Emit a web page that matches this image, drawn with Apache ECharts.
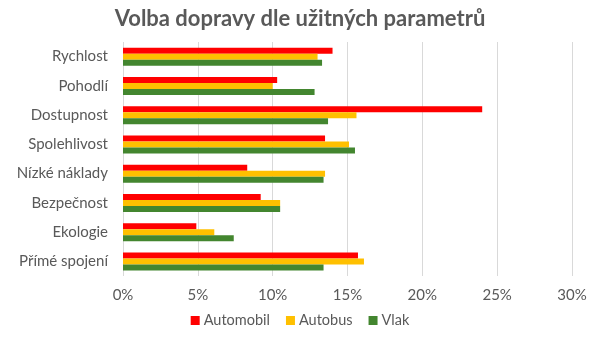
<!DOCTYPE html>
<html><head><meta charset="utf-8">
<script src="https://cdn.jsdelivr.net/npm/echarts@6/dist/echarts.min.js"></script>
<style>html,body{margin:0;padding:0;background:#fff}#c{width:600px;height:337px}</style>
</head><body><div id="c"></div>
<script>
const categories = ["Rychlost","Pohodlí","Dostupnost","Spolehlivost","Nízké náklady","Bezpečnost","Ekologie","Přímé spojení"];
const automobil = [14.0,10.3,24.0,13.5,8.3,9.2,4.9,15.7];
const autobus   = [13.0,10.0,15.6,15.1,13.5,10.5,6.1,16.1];
const vlak      = [13.3,12.8,13.7,15.5,13.4,10.5,7.4,13.4];
const seriesNames = ["Automobil","Autobus","Vlak"];
const colors = ["#ff0000","#ffc000","#43862f"];
const font = "Lato";
const chart = echarts.init(document.getElementById('c'));
chart.setOption({
  animation:false,
  title:{text:"Volba dopravy dle užitných parametrů",left:'center',top:3,
    textStyle:{fontFamily:font,fontSize:22,fontWeight:'bold',color:'#595959'}},
  legend:{bottom:4,left:'center',itemWidth:9,itemHeight:9,itemGap:16,icon:'rect',
    textStyle:{fontFamily:font,fontSize:14.5,color:'#595959',padding:[0,0,0,-1]},data:seriesNames},
  grid:{left:123,right:28,top:42,bottom:61,containLabel:false},
  xAxis:{type:'value',min:0,max:30,interval:5,
    axisLabel:{formatter:'{value}%',fontFamily:font,fontSize:15,color:'#595959',margin:12},
    splitLine:{lineStyle:{color:'#d9d9d9'}},axisLine:{show:false},axisTick:{show:false}},
  yAxis:{type:'category',data:categories,inverse:true,
    axisLabel:{fontFamily:font,fontSize:15,color:'#595959',margin:15},
    axisLine:{show:false},axisTick:{show:false}},
  series:[automobil,autobus,vlak].map((d,i)=>({name:seriesNames[i],type:'bar',data:d,
    barWidth:6,barGap:'0%',itemStyle:{color:colors[i]}}))
});
</script></body></html>
